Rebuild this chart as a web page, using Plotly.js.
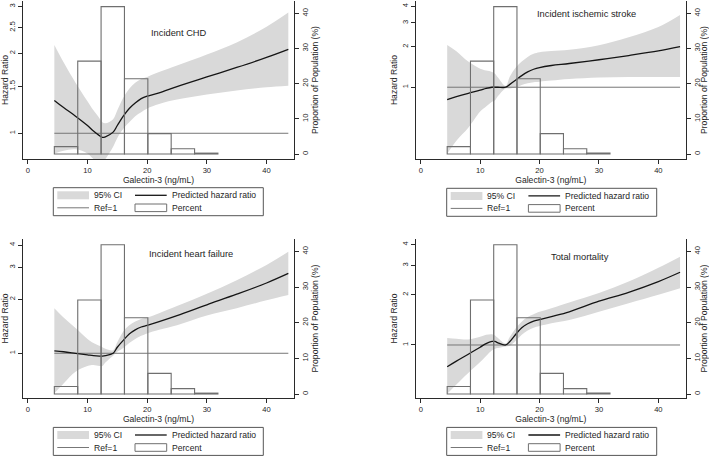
<!DOCTYPE html>
<html><head><meta charset="utf-8">
<script src="https://cdn.plot.ly/plotly-3.0.1.min.js"></script>
<style>html,body{margin:0;padding:0;background:#fff}#chart{width:709px;height:456px}</style>
</head><body><div id="chart"></div>
<script>
// ---- data ----
const galectin = [4.45, 6, 8, 10, 11, 12, 12.5, 13, 14.3, 15, 16, 17, 18, 19, 20, 22, 25, 30, 35, 40, 43.65];

const hrChd   = [1.33, 1.25, 1.16, 1.07, 1.02, 0.98, 0.965, 0.97, 1.01, 1.07, 1.16, 1.24, 1.3, 1.35, 1.38, 1.42, 1.5, 1.63, 1.77, 1.93, 2.07];
const hiChd   = [2.15, 1.85, 1.55, 1.32, 1.22, 1.14, 1.1, 1.09, 1.13, 1.22, 1.36, 1.47, 1.55, 1.6, 1.63, 1.7, 1.8, 1.98, 2.2, 2.52, 2.85];
const loChd   = [0.84, 0.86, 0.87, 0.84, 0.80, 0.78, 0.78, 0.80, 0.89, 0.96, 1.04, 1.1, 1.16, 1.2, 1.24, 1.29, 1.34, 1.4, 1.45, 1.49, 1.51];

const hrStroke = [0.81, 0.85, 0.9, 0.95, 0.98, 1.0, 1.0, 1.0, 1.0, 1.05, 1.13, 1.22, 1.3, 1.36, 1.4, 1.45, 1.5, 1.6, 1.72, 1.86, 2.0];
const hiStroke = [2.06, 1.85, 1.55, 1.37, 1.33, 1.3, 1.26, 1.18, 1.02, 1.2, 1.4, 1.55, 1.68, 1.77, 1.82, 1.86, 1.9, 2.05, 2.35, 2.8, 3.44];
const loStroke = [0.32, 0.4, 0.5, 0.66, 0.72, 0.78, 0.8, 0.86, 0.98, 0.98, 1.0, 1.04, 1.07, 1.09, 1.1, 1.12, 1.15, 1.18, 1.19, 1.19, 1.19];

const hrHf = [1.03, 1.02, 1.0, 0.98, 0.97, 0.965, 0.965, 0.97, 1.0, 1.08, 1.18, 1.28, 1.35, 1.4, 1.43, 1.5, 1.62, 1.86, 2.13, 2.46, 2.78];
const hiHf = [1.78, 1.58, 1.38, 1.2, 1.14, 1.1, 1.08, 1.06, 1.04, 1.15, 1.32, 1.43, 1.5, 1.55, 1.58, 1.67, 1.83, 2.14, 2.55, 3.1, 3.67];
const loHf = [0.6, 0.68, 0.79, 0.85, 0.86, 0.85, 0.85, 0.89, 0.97, 1.02, 1.07, 1.14, 1.2, 1.25, 1.29, 1.35, 1.43, 1.62, 1.78, 1.97, 2.11];

const hrMort = [0.74, 0.8, 0.88, 0.97, 1.02, 1.05, 1.05, 1.03, 1.0, 1.05, 1.16, 1.27, 1.34, 1.39, 1.42, 1.48, 1.58, 1.83, 2.07, 2.4, 2.73];
const hiMort = [1.1, 1.09, 1.08, 1.12, 1.15, 1.16, 1.14, 1.1, 1.02, 1.12, 1.26, 1.38, 1.47, 1.53, 1.58, 1.66, 1.8, 2.05, 2.4, 2.9, 3.38];
const loMort = [0.51, 0.58, 0.68, 0.79, 0.86, 0.93, 0.95, 0.96, 0.98, 0.99, 1.06, 1.15, 1.22, 1.27, 1.3, 1.35, 1.41, 1.58, 1.78, 2.0, 2.19];

const binLeft = [4.45, 8.37, 12.28, 16.2, 20.11, 24.03, 27.94];
const binWidth = 3.915;
const percent = [2.1, 26.4, 41.9, 21.4, 5.8, 1.5, 0.25];

const refX = [4.45, 43.65];
const refY = [1, 1];

const xTicks = [0, 10, 20, 30, 40];
const pctTicks = [0, 10, 20, 30, 40];
const ticksChd = [1, 1.5, 2, 2.5, 3];
const ticksOther = [1, 2, 3, 4];

const titles = ['Incident CHD', 'Incident ischemic stroke', 'Incident heart failure', 'Total mortality'];
const legendLabels = ['95% CI', 'Predicted hazard ratio', 'Ref=1', 'Percent'];

// ---- layout helpers ----
const W = 709, H = 456;
const FONT = 'Liberation Sans, Arial, sans-serif';
const TXT = '#1e1e1e';
const px = x => x / W, py = y => 1 - y / H;

const panels = [
  {title: titles[0], hr: hrChd, hi: hiChd, lo: loChd, hrRange: [0.80, 3.15], hrTicks: ticksChd, pctRange: [-1.42, 43.5],
   l: 23, r: 294, t: 1, b: 159, tx: 179, ty: 33.3, lx: 53.3, ly: 187.7},
  {title: titles[1], hr: hrStroke, hi: hiStroke, lo: loStroke, hrRange: [0.293, 4.37], hrTicks: ticksOther, pctRange: [-1.42, 43.5],
   l: 416, r: 685.7, t: 1, b: 159, tx: 586.7, ty: 14.3, lx: 446.7, ly: 188.3},
  {title: titles[2], hr: hrHf, hi: hiHf, lo: loHf, hrRange: [0.564, 4.32], hrTicks: ticksOther, pctRange: [-1.12, 43.5],
   l: 23, r: 294, t: 239, b: 398, tx: 190.8, ty: 254, lx: 53.3, ly: 427.4},
  {title: titles[3], hr: hrMort, hi: hiMort, lo: loMort, hrRange: [0.481, 4.32], hrTicks: ticksOther, pctRange: [-1.12, 43.5],
   l: 416, r: 685.7, t: 239, b: 398, tx: 580, ty: 257.3, lx: 446.7, ly: 427.4}
];

const traces = [];
const layout = {
  width: W, height: H, margin: {l: 0, r: 0, t: 0, b: 0},
  paper_bgcolor: '#fff', plot_bgcolor: 'rgba(0,0,0,0)',
  showlegend: false, font: {family: FONT, color: TXT},
  annotations: [], shapes: []
};

const axisBase = {
  showline: true, linecolor: '#2a2a2a', linewidth: 1, ticks: 'outside', ticklen: 4,
  tickcolor: '#2a2a2a', tickwidth: 1, showgrid: false, zeroline: false,
  tickfont: {family: FONT, size: 7.6, color: TXT}
};

const SM = 1.0;

panels.forEach((p, i) => {
  const xa = i === 0 ? 'x' : 'x' + (i + 1);
  const ya = 'y' + (2 * i + 1 === 1 ? '' : 2 * i + 1);
  const yb = 'y' + (2 * i + 2);
  const xName = i === 0 ? 'xaxis' : 'xaxis' + (i + 1);
  const yaName = 2 * i + 1 === 1 ? 'yaxis' : 'yaxis' + (2 * i + 1);
  const ybName = 'yaxis' + (2 * i + 2);

  traces.push({type: 'scatter', mode: 'lines', x: galectin, y: p.lo, xaxis: xa, yaxis: ya,
    line: {width: 0, shape: 'spline', smoothing: SM}, hoverinfo: 'skip'});
  traces.push({type: 'scatter', mode: 'lines', x: galectin, y: p.hi, xaxis: xa, yaxis: ya, name: legendLabels[0],
    fill: 'tonexty', fillcolor: '#d9d9d9', line: {width: 0, shape: 'spline', smoothing: SM}, hoverinfo: 'skip'});
  traces.push({type: 'scatter', mode: 'lines', x: refX, y: refY, xaxis: xa, yaxis: ya, name: legendLabels[2],
    line: {color: '#777', width: 1}, hoverinfo: 'skip'});
  traces.push({type: 'scatter', mode: 'lines', x: galectin, y: p.hr, xaxis: xa, yaxis: ya, name: legendLabels[1],
    line: {color: '#151515', width: 1.3, shape: 'spline', smoothing: SM}, hoverinfo: 'skip'});
  traces.push({type: 'bar', x: binLeft, y: percent, width: binWidth, offset: 0, xaxis: xa, yaxis: yb, name: legendLabels[3],
    marker: {color: 'rgba(0,0,0,0)', line: {color: '#6f6f6f', width: 1.1}}, hoverinfo: 'skip'});

  layout[xName] = Object.assign({}, axisBase, {
    domain: [px(p.l), px(p.r)], range: [-0.8, 44.6], anchor: ya, tickvals: xTicks,
    title: {text: 'Galectin-3 (ng/mL)', font: {family: FONT, size: 8.6, color: TXT}, standoff: 1}
  });
  layout[yaName] = Object.assign({}, axisBase, {
    domain: [py(p.b), py(p.t)], type: 'log', anchor: xa,
    range: [Math.log10(p.hrRange[0]), Math.log10(p.hrRange[1])],
    tickvals: p.hrTicks, ticktext: p.hrTicks.map(String), tickangle: -90,
    title: {text: 'Hazard Ratio', font: {family: FONT, size: 8.6, color: TXT}, standoff: 1}
  });
  layout[ybName] = Object.assign({}, axisBase, {
    overlaying: ya, side: 'right', anchor: xa, range: p.pctRange, tickvals: pctTicks, tickangle: -90,
    title: {text: 'Proportion of Population (%)', font: {family: FONT, size: 8.6, color: TXT}, standoff: 1}
  });

  // panel title
  layout.annotations.push({xref: 'paper', yref: 'paper', x: px(p.tx), y: py(p.ty), text: p.title,
    showarrow: false, xanchor: 'center', yanchor: 'middle', font: {family: FONT, size: 9.3, color: TXT}});

  // legend box
  const ox = p.lx, oy = p.ly;
  layout.shapes.push({type: 'rect', xref: 'paper', yref: 'paper', x0: px(ox), x1: px(ox + 210), y0: py(oy), y1: py(oy + 28),
    line: {color: '#555', width: 1}, fillcolor: '#fff', layer: 'below'});
  const r1 = oy + 7.6, r2 = oy + 20.1;
  const c1 = ox + 4, c2 = ox + 81.7, sw = 31.7;
  layout.shapes.push({type: 'rect', xref: 'paper', yref: 'paper', x0: px(c1), x1: px(c1 + sw), y0: py(r1 - 4), y1: py(r1 + 4),
    line: {width: 0}, fillcolor: '#d9d9d9'});
  layout.shapes.push({type: 'line', xref: 'paper', yref: 'paper', x0: px(c2), x1: px(c2 + sw), y0: py(r1), y1: py(r1),
    line: {color: '#151515', width: 1.3}});
  layout.shapes.push({type: 'line', xref: 'paper', yref: 'paper', x0: px(c1), x1: px(c1 + sw), y0: py(r2), y1: py(r2),
    line: {color: '#777', width: 1}});
  layout.shapes.push({type: 'rect', xref: 'paper', yref: 'paper', x0: px(c2), x1: px(c2 + sw), y0: py(r2 - 3.8), y1: py(r2 + 3.8),
    line: {color: '#6f6f6f', width: 1}, fillcolor: '#fff'});
  const labs = [[legendLabels[0], c1 + sw + 4, r1], [legendLabels[1], c2 + sw + 4, r1],
                [legendLabels[2], c1 + sw + 4, r2], [legendLabels[3], c2 + sw + 4, r2]];
  labs.forEach(([t, x, y]) => layout.annotations.push({xref: 'paper', yref: 'paper', x: px(x), y: py(y), text: t,
    showarrow: false, xanchor: 'left', yanchor: 'middle', borderpad: 0, font: {family: FONT, size: 8.6, color: TXT}}));
});

Plotly.newPlot('chart', traces, layout, {staticPlot: true, displayModeBar: false});
</script>
</body></html>
